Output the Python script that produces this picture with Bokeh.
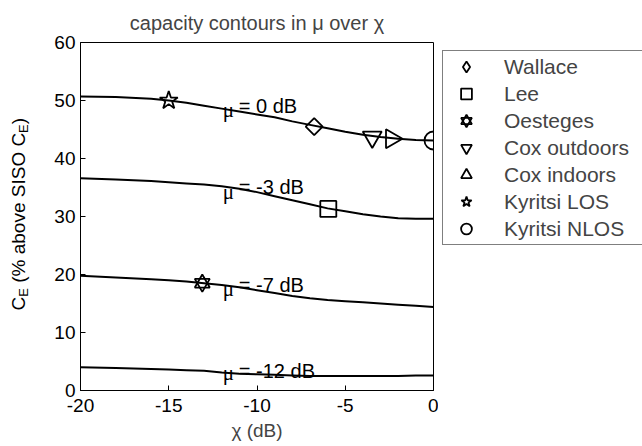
import math
import numpy as np
from bokeh.plotting import figure
from bokeh.layouts import row
from bokeh.models import Legend, LegendItem, FixedTicker, Range1d
from bokeh.core.properties import value
from bokeh.embed import file_html
from bokeh.resources import INLINE

# ---- data ----
chi = [-20, -18, -16, -15, -14, -13, -12, -11, -10, -9, -8, -7, -6, -5, -4, -3, -2, -1, 0]
ce_mu0 = [50.7, 50.6, 50.3, 50.0, 49.6, 49.1, 48.6, 48.1, 47.6, 47.1, 46.4, 45.8, 45.2, 44.6, 44.1, 43.7, 43.4, 43.2, 43.1]
ce_mu3 = [36.6, 36.4, 36.1, 35.9, 35.7, 35.5, 35.2, 34.8, 34.2, 33.5, 32.8, 32.1, 31.4, 30.9, 30.4, 30.0, 29.7, 29.6, 29.6]
ce_mu7 = [19.8, 19.5, 19.2, 19.0, 18.8, 18.5, 18.2, 17.8, 17.3, 16.8, 16.3, 15.9, 15.6, 15.4, 15.2, 15.0, 14.8, 14.6, 14.4]
ce_mu12 = [4.0, 3.9, 3.7, 3.6, 3.5, 3.4, 3.1, 2.9, 2.8, 2.7, 2.6, 2.5, 2.5, 2.5, 2.5, 2.5, 2.5, 2.6, 2.6]
curves = [ce_mu0, ce_mu3, ce_mu7, ce_mu12]

mu_texts = ["= 0 dB", "= -3 dB", "= -7 dB", "= -12 dB"]
mu_text_chi = [-11.03, -11.03, -11.03, -11.03]
mu_text_ce = [49.05, 35.1, 18.2, 3.4]
mu_sym_chi = [-11.94, -11.94, -11.94, -11.94]
mu_sym_ce = [48.4, 34.3, 17.5, 3.0]

ref_names = ["Wallace", "Lee", "Oesteges", "Cox outdoors", "Cox indoors", "Kyritsi LOS", "Kyritsi NLOS"]
ref_chi = [-6.76, -5.96, -13.1, -3.47, -2.38, -15.0, 0.0]
ref_ce = [45.5, 31.3, 18.5, 43.7, 43.4, 50.0, 43.1]

x_ticks = [-20, -15, -10, -5, 0]
x_tick_labels = ["-20", "-15", "-10", "-5", "0"]
y_ticks = [0, 10, 20, 30, 40, 50, 60]
y_tick_labels = ["0", "10", "20", "30", "40", "50", "60"]

# y-axis title pieces (main text and subscripts), placed along the value axis
ylab_parts = ["C", "\u00a0(% above SISO C", ")"]
ylab_pos = [13.79, 17.66, 45.91]
ylab_sub_parts = ["E", "E"]
ylab_sub_pos = [16.16, 44.41]

FONT = "Liberation Sans"
H = 446
TOP, BOTTOM = 42, 56
LEFT_W = 36
MAIN_W = 402
LEG_W = 642 - LEFT_W - MAIN_W

# ---- left strip carrying the y-axis title ----
yl = figure(width=LEFT_W, height=H, x_range=Range1d(0, LEFT_W), y_range=Range1d(0, 60),
            output_backend="svg", toolbar_location=None, x_axis_type=None, y_axis_type=None,
            min_border_left=0, min_border_right=0, min_border_top=TOP, min_border_bottom=BOTTOM)
yl.grid.visible = False
yl.outline_line_color = None
yl.text(x=[17.5] * len(ylab_parts), y=ylab_pos, text=ylab_parts, angle=math.pi / 2,
        text_font=value(FONT), text_font_size="19px", text_align="left",
        text_baseline="middle", text_color="black")
yl.text(x=[23.0] * len(ylab_sub_parts), y=ylab_sub_pos, text=ylab_sub_parts, angle=math.pi / 2,
        text_font=value(FONT), text_font_size="13px", text_align="left",
        text_baseline="middle", text_color="black")

# ---- main plot ----
p = figure(width=MAIN_W, height=H, x_range=Range1d(-20, 0), y_range=Range1d(0, 60),
           output_backend="svg", toolbar_location=None,
           min_border_left=80 - LEFT_W, min_border_right=MAIN_W - (433 - LEFT_W),
           min_border_top=TOP, min_border_bottom=BOTTOM, title="capacity contours in μ over χ")
p.grid.visible = False
p.outline_line_color = "black"
p.outline_line_width = 1
p.background_fill_color = "white"
p.border_fill_color = "white"

p.title.text_font = FONT
p.title.text_font_size = "20px"
p.title.text_font_style = "normal"
p.title.align = "center"
p.title.standoff = 18

xa = p.below[0]
ya = p.left[0]
for ax, ticks, labels in ((xa, x_ticks, x_tick_labels), (ya, y_ticks, y_tick_labels)):
    ax.ticker = FixedTicker(ticks=ticks)
    ax.major_label_overrides = {t: l for t, l in zip(ticks, labels)}
    ax.major_tick_in = 5
    ax.major_tick_out = 0
    ax.minor_tick_line_color = None
    ax.major_label_text_font = FONT
    ax.major_label_text_font_size = "19px"
    ax.major_label_text_color = "black"
    ax.axis_line_color = "black"
    ax.major_tick_line_color = "black"
xa.major_label_standoff = 8
ya.major_label_standoff = 5
xa.axis_label = "χ (dB)"
xa.axis_label_text_font = FONT
xa.axis_label_text_font_size = "19px"
xa.axis_label_text_font_style = "normal"
xa.axis_label_standoff = 5

# curves
for ys in curves:
    p.line(chi, ys, line_color="black", line_width=2)

# curve labels
p.text(x=mu_sym_chi, y=mu_sym_ce, text=["μ"] * len(mu_sym_ce), text_font=value("Liberation Serif"),
       text_font_size="21px", text_baseline="middle", text_align="left", text_color="black")
p.text(x=mu_text_chi, y=mu_text_ce, text=mu_texts, text_font=value(FONT),
       text_font_size="20px", text_baseline="middle", text_align="left", text_color="black")

mk = dict(fill_alpha=0, line_color="black", line_width=1.8)
p.scatter([ref_chi[0]], [ref_ce[0]], marker="square", angle=math.pi / 4, size=12, **mk)
p.scatter([ref_chi[1]], [ref_ce[1]], marker="square", size=16, **mk)
p.scatter([ref_chi[2]], [ref_ce[2]], marker="triangle", size=15, **mk)
p.scatter([ref_chi[2]], [ref_ce[2]], marker="inverted_triangle", size=15, **mk)
p.scatter([ref_chi[3]], [ref_ce[3]], marker="inverted_triangle", size=19, **mk)
p.scatter([ref_chi[4]], [ref_ce[4]], marker="triangle", angle=-math.pi / 2, size=19, **mk)
p.scatter([ref_chi[5]], [ref_ce[5]], marker="star", size=19, **mk)
p.scatter([ref_chi[6]], [ref_ce[6]], marker="circle", size=18, **mk)

# ---- legend panel (keys only, no visible data) ----
lg = figure(width=LEG_W, height=H, x_range=Range1d(0, 1), y_range=Range1d(0, 1),
            output_backend="svg", toolbar_location=None, x_axis_type=None, y_axis_type=None,
            min_border_left=0, min_border_right=0, min_border_top=TOP, min_border_bottom=BOTTOM)
lg.grid.visible = False
lg.outline_line_color = None
nan = np.array([np.nan])
key_markers = [["diamond"], ["square"], ["triangle", "inverted_triangle"], ["inverted_triangle"],
               ["triangle"], ["star"], ["circle"]]
key_angles = [[0.0], [0.0], [0.0, 0.0], [0.0], [-math.pi / 2], [0.0], [0.0]]
items = []
for name, mks, angs in zip(ref_names, key_markers, key_angles):
    rs = [lg.scatter(x=nan, y=nan, marker=m, angle=a, size=12, **mk) for m, a in zip(mks, angs)]
    items.append(LegendItem(label=name, renderers=rs))
LEG_TOP, LEG_H = 52, 193
legend = Legend(items=items, location=(442 - LEFT_W - MAIN_W, (H - BOTTOM) - (LEG_TOP + LEG_H)),
                orientation="vertical",
                border_line_color="black", border_line_width=1,
                background_fill_color="white", background_fill_alpha=1,
                padding=dict(left=0, right=0, top=2, bottom=2), spacing=0,
                glyph_width=46, glyph_height=27,
                label_standoff=15, label_text_font=FONT, label_text_font_size="21px",
                label_width=150, margin=0)
lg.add_layout(legend)

open("out.html", "w").write(file_html(row(yl, p, lg), INLINE))
